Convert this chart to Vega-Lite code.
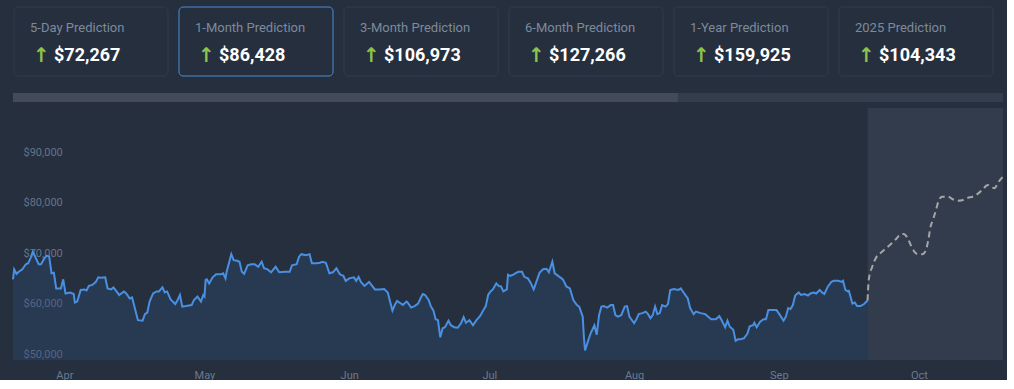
{
  "$schema": "https://vega.github.io/schema/vega-lite/v6.json",
  "background": "#252f3e",
  "padding": {"left": 9, "top": 6, "right": 0, "bottom": 0},
  "config": {"view": {"stroke": null}, "font": "Roboto"},
  "spacing": 16,
  "datasets": {
    "cards": [
      {"label": "5-Day Prediction", "value": "$72,267"},
      {"label": "1-Month Prediction", "value": "$86,428"},
      {"label": "3-Month Prediction", "value": "$106,973"},
      {"label": "6-Month Prediction", "value": "$127,266"},
      {"label": "1-Year Prediction", "value": "$159,925"},
      {"label": "2025 Prediction", "value": "$104,343"}
    ],
    "scroll": [
      {"part": "thumb", "start": 0, "end": 0.6717},
      {"part": "track", "start": 0.6717, "end": 1}
    ],
    "band": [
      {"date": "2024-09-20T00:00:00Z", "end": "2024-10-19T00:00:00Z"}
    ],
    "history": [
      {"date": "2024-03-21T00:00:00Z", "price": 66000},
      {"date": "2024-03-21T06:00:00Z", "price": 68000},
      {"date": "2024-03-21T18:00:00Z", "price": 67100},
      {"date": "2024-03-22T06:00:00Z", "price": 67500},
      {"date": "2024-03-23T00:00:00Z", "price": 68000},
      {"date": "2024-03-23T18:00:00Z", "price": 69000},
      {"date": "2024-03-24T06:00:00Z", "price": 69200},
      {"date": "2024-03-24T18:00:00Z", "price": 70200},
      {"date": "2024-03-25T06:00:00Z", "price": 71500},
      {"date": "2024-03-25T18:00:00Z", "price": 70500},
      {"date": "2024-03-26T12:00:00Z", "price": 69000},
      {"date": "2024-03-27T00:00:00Z", "price": 69000},
      {"date": "2024-03-27T18:00:00Z", "price": 70200},
      {"date": "2024-03-28T06:00:00Z", "price": 70700},
      {"date": "2024-03-28T18:00:00Z", "price": 70500},
      {"date": "2024-03-29T06:00:00Z", "price": 67200},
      {"date": "2024-03-29T18:00:00Z", "price": 67300},
      {"date": "2024-03-30T06:00:00Z", "price": 64200},
      {"date": "2024-03-31T06:00:00Z", "price": 64200},
      {"date": "2024-03-31T18:00:00Z", "price": 66000},
      {"date": "2024-04-01T06:00:00Z", "price": 63200},
      {"date": "2024-04-02T06:00:00Z", "price": 63400},
      {"date": "2024-04-03T00:00:00Z", "price": 63100},
      {"date": "2024-04-03T06:00:00Z", "price": 61400},
      {"date": "2024-04-03T18:00:00Z", "price": 61600},
      {"date": "2024-04-04T12:00:00Z", "price": 63900},
      {"date": "2024-04-05T06:00:00Z", "price": 64000},
      {"date": "2024-04-05T18:00:00Z", "price": 63800},
      {"date": "2024-04-06T06:00:00Z", "price": 64700},
      {"date": "2024-04-07T00:00:00Z", "price": 64900},
      {"date": "2024-04-07T18:00:00Z", "price": 65500},
      {"date": "2024-04-08T06:00:00Z", "price": 66400},
      {"date": "2024-04-08T18:00:00Z", "price": 66300},
      {"date": "2024-04-09T18:00:00Z", "price": 66400},
      {"date": "2024-04-10T06:00:00Z", "price": 64200},
      {"date": "2024-04-11T00:00:00Z", "price": 64000},
      {"date": "2024-04-11T12:00:00Z", "price": 64400},
      {"date": "2024-04-12T00:00:00Z", "price": 63800},
      {"date": "2024-04-12T18:00:00Z", "price": 62900},
      {"date": "2024-04-13T18:00:00Z", "price": 63600},
      {"date": "2024-04-14T06:00:00Z", "price": 63200},
      {"date": "2024-04-15T00:00:00Z", "price": 62200},
      {"date": "2024-04-15T12:00:00Z", "price": 62400},
      {"date": "2024-04-16T00:00:00Z", "price": 60600},
      {"date": "2024-04-16T18:00:00Z", "price": 57900},
      {"date": "2024-04-17T18:00:00Z", "price": 57800},
      {"date": "2024-04-18T06:00:00Z", "price": 59100},
      {"date": "2024-04-18T18:00:00Z", "price": 59400},
      {"date": "2024-04-19T06:00:00Z", "price": 61600},
      {"date": "2024-04-20T00:00:00Z", "price": 63200},
      {"date": "2024-04-20T18:00:00Z", "price": 63600},
      {"date": "2024-04-21T06:00:00Z", "price": 63600},
      {"date": "2024-04-22T00:00:00Z", "price": 64400},
      {"date": "2024-04-22T12:00:00Z", "price": 63400},
      {"date": "2024-04-23T00:00:00Z", "price": 63600},
      {"date": "2024-04-23T18:00:00Z", "price": 62000},
      {"date": "2024-04-24T18:00:00Z", "price": 61100},
      {"date": "2024-04-25T06:00:00Z", "price": 61900},
      {"date": "2024-04-25T18:00:00Z", "price": 62900},
      {"date": "2024-04-26T06:00:00Z", "price": 60600},
      {"date": "2024-04-27T00:00:00Z", "price": 60700},
      {"date": "2024-04-28T06:00:00Z", "price": 60900},
      {"date": "2024-04-28T18:00:00Z", "price": 61900},
      {"date": "2024-04-29T12:00:00Z", "price": 62600},
      {"date": "2024-04-30T06:00:00Z", "price": 61600},
      {"date": "2024-04-30T18:00:00Z", "price": 62900},
      {"date": "2024-05-01T00:00:00Z", "price": 62600},
      {"date": "2024-05-01T06:00:00Z", "price": 65900},
      {"date": "2024-05-01T12:00:00Z", "price": 66000},
      {"date": "2024-05-02T00:00:00Z", "price": 65200},
      {"date": "2024-05-02T18:00:00Z", "price": 66400},
      {"date": "2024-05-03T12:00:00Z", "price": 67000},
      {"date": "2024-05-04T12:00:00Z", "price": 67000},
      {"date": "2024-05-05T00:00:00Z", "price": 67200},
      {"date": "2024-05-05T12:00:00Z", "price": 66200},
      {"date": "2024-05-05T18:00:00Z", "price": 67500},
      {"date": "2024-05-06T18:00:00Z", "price": 71000},
      {"date": "2024-05-07T06:00:00Z", "price": 69800},
      {"date": "2024-05-08T00:00:00Z", "price": 69700},
      {"date": "2024-05-08T12:00:00Z", "price": 69500},
      {"date": "2024-05-09T00:00:00Z", "price": 67500},
      {"date": "2024-05-09T12:00:00Z", "price": 67100},
      {"date": "2024-05-10T06:00:00Z", "price": 68800},
      {"date": "2024-05-11T00:00:00Z", "price": 69000},
      {"date": "2024-05-11T18:00:00Z", "price": 69000},
      {"date": "2024-05-12T12:00:00Z", "price": 68500},
      {"date": "2024-05-13T06:00:00Z", "price": 69500},
      {"date": "2024-05-13T18:00:00Z", "price": 68200},
      {"date": "2024-05-14T12:00:00Z", "price": 68000},
      {"date": "2024-05-15T06:00:00Z", "price": 67400},
      {"date": "2024-05-16T06:00:00Z", "price": 68500},
      {"date": "2024-05-17T00:00:00Z", "price": 67400},
      {"date": "2024-05-18T06:00:00Z", "price": 67500},
      {"date": "2024-05-19T06:00:00Z", "price": 67500},
      {"date": "2024-05-19T18:00:00Z", "price": 68800},
      {"date": "2024-05-20T18:00:00Z", "price": 69000},
      {"date": "2024-05-21T06:00:00Z", "price": 70500},
      {"date": "2024-05-21T18:00:00Z", "price": 71000},
      {"date": "2024-05-22T18:00:00Z", "price": 70800},
      {"date": "2024-05-23T12:00:00Z", "price": 71000},
      {"date": "2024-05-24T00:00:00Z", "price": 69200},
      {"date": "2024-05-25T00:00:00Z", "price": 69200},
      {"date": "2024-05-25T18:00:00Z", "price": 69300},
      {"date": "2024-05-26T06:00:00Z", "price": 69500},
      {"date": "2024-05-27T00:00:00Z", "price": 69300},
      {"date": "2024-05-27T18:00:00Z", "price": 67200},
      {"date": "2024-05-28T12:00:00Z", "price": 67400},
      {"date": "2024-05-29T06:00:00Z", "price": 68200},
      {"date": "2024-05-30T00:00:00Z", "price": 67000},
      {"date": "2024-05-30T18:00:00Z", "price": 66700},
      {"date": "2024-05-31T06:00:00Z", "price": 65700},
      {"date": "2024-06-01T00:00:00Z", "price": 66200},
      {"date": "2024-06-02T00:00:00Z", "price": 66400},
      {"date": "2024-06-02T12:00:00Z", "price": 65700},
      {"date": "2024-06-03T00:00:00Z", "price": 66500},
      {"date": "2024-06-03T12:00:00Z", "price": 65500},
      {"date": "2024-06-04T06:00:00Z", "price": 64700},
      {"date": "2024-06-04T18:00:00Z", "price": 65100},
      {"date": "2024-06-05T06:00:00Z", "price": 65500},
      {"date": "2024-06-05T18:00:00Z", "price": 64900},
      {"date": "2024-06-06T12:00:00Z", "price": 64000},
      {"date": "2024-06-07T12:00:00Z", "price": 64000},
      {"date": "2024-06-08T12:00:00Z", "price": 64100},
      {"date": "2024-06-09T06:00:00Z", "price": 63400},
      {"date": "2024-06-09T18:00:00Z", "price": 61600},
      {"date": "2024-06-10T06:00:00Z", "price": 59800},
      {"date": "2024-06-10T18:00:00Z", "price": 60900},
      {"date": "2024-06-11T06:00:00Z", "price": 61700},
      {"date": "2024-06-11T18:00:00Z", "price": 61400},
      {"date": "2024-06-12T12:00:00Z", "price": 60900},
      {"date": "2024-06-13T06:00:00Z", "price": 61600},
      {"date": "2024-06-13T12:00:00Z", "price": 61400},
      {"date": "2024-06-14T06:00:00Z", "price": 60400},
      {"date": "2024-06-15T00:00:00Z", "price": 60700},
      {"date": "2024-06-15T18:00:00Z", "price": 61200},
      {"date": "2024-06-16T06:00:00Z", "price": 62200},
      {"date": "2024-06-16T18:00:00Z", "price": 63100},
      {"date": "2024-06-17T06:00:00Z", "price": 62900},
      {"date": "2024-06-18T00:00:00Z", "price": 61900},
      {"date": "2024-06-18T12:00:00Z", "price": 60600},
      {"date": "2024-06-19T00:00:00Z", "price": 59900},
      {"date": "2024-06-19T12:00:00Z", "price": 58100},
      {"date": "2024-06-20T00:00:00Z", "price": 57900},
      {"date": "2024-06-20T12:00:00Z", "price": 54500},
      {"date": "2024-06-21T00:00:00Z", "price": 56300},
      {"date": "2024-06-21T12:00:00Z", "price": 56500},
      {"date": "2024-06-22T06:00:00Z", "price": 57800},
      {"date": "2024-06-22T18:00:00Z", "price": 56900},
      {"date": "2024-06-23T12:00:00Z", "price": 56500},
      {"date": "2024-06-24T06:00:00Z", "price": 56400},
      {"date": "2024-06-25T00:00:00Z", "price": 57400},
      {"date": "2024-06-25T12:00:00Z", "price": 58500},
      {"date": "2024-06-26T00:00:00Z", "price": 57400},
      {"date": "2024-06-26T18:00:00Z", "price": 57900},
      {"date": "2024-06-27T12:00:00Z", "price": 56900},
      {"date": "2024-06-28T06:00:00Z", "price": 57900},
      {"date": "2024-06-29T00:00:00Z", "price": 58700},
      {"date": "2024-06-29T18:00:00Z", "price": 59900},
      {"date": "2024-06-30T06:00:00Z", "price": 60700},
      {"date": "2024-06-30T18:00:00Z", "price": 62900},
      {"date": "2024-07-01T06:00:00Z", "price": 63600},
      {"date": "2024-07-01T18:00:00Z", "price": 64000},
      {"date": "2024-07-02T12:00:00Z", "price": 65200},
      {"date": "2024-07-03T00:00:00Z", "price": 64700},
      {"date": "2024-07-03T12:00:00Z", "price": 64600},
      {"date": "2024-07-04T00:00:00Z", "price": 63600},
      {"date": "2024-07-04T18:00:00Z", "price": 64000},
      {"date": "2024-07-05T00:00:00Z", "price": 66900},
      {"date": "2024-07-05T12:00:00Z", "price": 66700},
      {"date": "2024-07-06T06:00:00Z", "price": 67000},
      {"date": "2024-07-06T18:00:00Z", "price": 67300},
      {"date": "2024-07-07T06:00:00Z", "price": 67500},
      {"date": "2024-07-08T00:00:00Z", "price": 67500},
      {"date": "2024-07-08T12:00:00Z", "price": 66500},
      {"date": "2024-07-09T06:00:00Z", "price": 66200},
      {"date": "2024-07-09T18:00:00Z", "price": 65500},
      {"date": "2024-07-10T12:00:00Z", "price": 64000},
      {"date": "2024-07-11T00:00:00Z", "price": 65300},
      {"date": "2024-07-11T18:00:00Z", "price": 67300},
      {"date": "2024-07-12T12:00:00Z", "price": 68000},
      {"date": "2024-07-13T06:00:00Z", "price": 68100},
      {"date": "2024-07-13T18:00:00Z", "price": 67400},
      {"date": "2024-07-14T12:00:00Z", "price": 69500},
      {"date": "2024-07-15T00:00:00Z", "price": 67200},
      {"date": "2024-07-15T18:00:00Z", "price": 66700},
      {"date": "2024-07-16T18:00:00Z", "price": 66000},
      {"date": "2024-07-17T12:00:00Z", "price": 64600},
      {"date": "2024-07-18T06:00:00Z", "price": 64200},
      {"date": "2024-07-19T00:00:00Z", "price": 61900},
      {"date": "2024-07-19T18:00:00Z", "price": 60900},
      {"date": "2024-07-20T06:00:00Z", "price": 60600},
      {"date": "2024-07-21T00:00:00Z", "price": 58600},
      {"date": "2024-07-21T06:00:00Z", "price": 54600},
      {"date": "2024-07-21T12:00:00Z", "price": 51900},
      {"date": "2024-07-22T06:00:00Z", "price": 54100},
      {"date": "2024-07-22T18:00:00Z", "price": 55400},
      {"date": "2024-07-23T12:00:00Z", "price": 56900},
      {"date": "2024-07-24T00:00:00Z", "price": 55000},
      {"date": "2024-07-24T12:00:00Z", "price": 58900},
      {"date": "2024-07-25T00:00:00Z", "price": 60600},
      {"date": "2024-07-25T12:00:00Z", "price": 60700},
      {"date": "2024-07-26T06:00:00Z", "price": 60400},
      {"date": "2024-07-27T00:00:00Z", "price": 60900},
      {"date": "2024-07-27T12:00:00Z", "price": 60900},
      {"date": "2024-07-28T00:00:00Z", "price": 58900},
      {"date": "2024-07-28T12:00:00Z", "price": 58600},
      {"date": "2024-07-29T06:00:00Z", "price": 58900},
      {"date": "2024-07-30T00:00:00Z", "price": 60600},
      {"date": "2024-07-30T12:00:00Z", "price": 60700},
      {"date": "2024-07-31T00:00:00Z", "price": 58600},
      {"date": "2024-08-01T00:00:00Z", "price": 57300},
      {"date": "2024-08-01T12:00:00Z", "price": 58100},
      {"date": "2024-08-02T00:00:00Z", "price": 59100},
      {"date": "2024-08-02T18:00:00Z", "price": 59300},
      {"date": "2024-08-03T12:00:00Z", "price": 59600},
      {"date": "2024-08-04T00:00:00Z", "price": 59100},
      {"date": "2024-08-04T12:00:00Z", "price": 58300},
      {"date": "2024-08-05T00:00:00Z", "price": 58900},
      {"date": "2024-08-05T12:00:00Z", "price": 60600},
      {"date": "2024-08-06T00:00:00Z", "price": 59100},
      {"date": "2024-08-06T12:00:00Z", "price": 59300},
      {"date": "2024-08-07T00:00:00Z", "price": 60900},
      {"date": "2024-08-07T18:00:00Z", "price": 60600},
      {"date": "2024-08-08T06:00:00Z", "price": 61100},
      {"date": "2024-08-08T18:00:00Z", "price": 63900},
      {"date": "2024-08-09T12:00:00Z", "price": 64100},
      {"date": "2024-08-10T12:00:00Z", "price": 63900},
      {"date": "2024-08-11T00:00:00Z", "price": 64200},
      {"date": "2024-08-11T18:00:00Z", "price": 63200},
      {"date": "2024-08-12T12:00:00Z", "price": 62200},
      {"date": "2024-08-13T00:00:00Z", "price": 60300},
      {"date": "2024-08-13T18:00:00Z", "price": 59100},
      {"date": "2024-08-14T06:00:00Z", "price": 59600},
      {"date": "2024-08-15T06:00:00Z", "price": 59300},
      {"date": "2024-08-16T06:00:00Z", "price": 59100},
      {"date": "2024-08-16T18:00:00Z", "price": 58700},
      {"date": "2024-08-17T12:00:00Z", "price": 58100},
      {"date": "2024-08-18T12:00:00Z", "price": 58100},
      {"date": "2024-08-19T06:00:00Z", "price": 58700},
      {"date": "2024-08-19T18:00:00Z", "price": 57900},
      {"date": "2024-08-20T12:00:00Z", "price": 56500},
      {"date": "2024-08-21T00:00:00Z", "price": 57800},
      {"date": "2024-08-21T12:00:00Z", "price": 56600},
      {"date": "2024-08-22T06:00:00Z", "price": 56000},
      {"date": "2024-08-22T18:00:00Z", "price": 53800},
      {"date": "2024-08-23T06:00:00Z", "price": 54100},
      {"date": "2024-08-23T18:00:00Z", "price": 54100},
      {"date": "2024-08-24T12:00:00Z", "price": 54300},
      {"date": "2024-08-25T06:00:00Z", "price": 55200},
      {"date": "2024-08-25T18:00:00Z", "price": 56700},
      {"date": "2024-08-26T12:00:00Z", "price": 56900},
      {"date": "2024-08-26T18:00:00Z", "price": 57400},
      {"date": "2024-08-27T06:00:00Z", "price": 56500},
      {"date": "2024-08-28T00:00:00Z", "price": 57600},
      {"date": "2024-08-28T18:00:00Z", "price": 58100},
      {"date": "2024-08-29T06:00:00Z", "price": 58100},
      {"date": "2024-08-29T18:00:00Z", "price": 59900},
      {"date": "2024-08-30T12:00:00Z", "price": 59900},
      {"date": "2024-08-31T12:00:00Z", "price": 59900},
      {"date": "2024-09-01T06:00:00Z", "price": 58900},
      {"date": "2024-09-02T00:00:00Z", "price": 57800},
      {"date": "2024-09-02T12:00:00Z", "price": 58600},
      {"date": "2024-09-03T00:00:00Z", "price": 60300},
      {"date": "2024-09-03T12:00:00Z", "price": 60100},
      {"date": "2024-09-04T00:00:00Z", "price": 60900},
      {"date": "2024-09-04T12:00:00Z", "price": 62800},
      {"date": "2024-09-05T06:00:00Z", "price": 63400},
      {"date": "2024-09-05T18:00:00Z", "price": 62900},
      {"date": "2024-09-06T12:00:00Z", "price": 63100},
      {"date": "2024-09-07T06:00:00Z", "price": 62800},
      {"date": "2024-09-07T18:00:00Z", "price": 63200},
      {"date": "2024-09-08T12:00:00Z", "price": 63400},
      {"date": "2024-09-09T00:00:00Z", "price": 63200},
      {"date": "2024-09-09T18:00:00Z", "price": 63900},
      {"date": "2024-09-10T06:00:00Z", "price": 63400},
      {"date": "2024-09-10T18:00:00Z", "price": 63100},
      {"date": "2024-09-11T12:00:00Z", "price": 64600},
      {"date": "2024-09-12T06:00:00Z", "price": 65500},
      {"date": "2024-09-12T18:00:00Z", "price": 65700},
      {"date": "2024-09-13T18:00:00Z", "price": 65700},
      {"date": "2024-09-14T12:00:00Z", "price": 65500},
      {"date": "2024-09-14T18:00:00Z", "price": 65700},
      {"date": "2024-09-15T06:00:00Z", "price": 63900},
      {"date": "2024-09-15T18:00:00Z", "price": 63600},
      {"date": "2024-09-16T00:00:00Z", "price": 63700},
      {"date": "2024-09-16T18:00:00Z", "price": 61200},
      {"date": "2024-09-17T06:00:00Z", "price": 61400},
      {"date": "2024-09-17T18:00:00Z", "price": 60700},
      {"date": "2024-09-18T12:00:00Z", "price": 60700},
      {"date": "2024-09-19T06:00:00Z", "price": 61100},
      {"date": "2024-09-20T00:00:00Z", "price": 61800}
    ],
    "forecast": [
      {"date": "2024-09-20T00:00:00Z", "price": 61800},
      {"date": "2024-09-20T06:00:00Z", "price": 65900},
      {"date": "2024-09-21T00:00:00Z", "price": 68500},
      {"date": "2024-09-21T18:00:00Z", "price": 70200},
      {"date": "2024-09-22T18:00:00Z", "price": 71200},
      {"date": "2024-09-24T00:00:00Z", "price": 72200},
      {"date": "2024-09-25T00:00:00Z", "price": 73000},
      {"date": "2024-09-26T00:00:00Z", "price": 73900},
      {"date": "2024-09-27T06:00:00Z", "price": 75000},
      {"date": "2024-09-27T18:00:00Z", "price": 75000},
      {"date": "2024-09-28T12:00:00Z", "price": 74300},
      {"date": "2024-09-29T06:00:00Z", "price": 72800},
      {"date": "2024-09-30T00:00:00Z", "price": 71500},
      {"date": "2024-09-30T18:00:00Z", "price": 71000},
      {"date": "2024-10-01T18:00:00Z", "price": 71000},
      {"date": "2024-10-02T12:00:00Z", "price": 71800},
      {"date": "2024-10-03T00:00:00Z", "price": 73800},
      {"date": "2024-10-03T12:00:00Z", "price": 76500},
      {"date": "2024-10-04T00:00:00Z", "price": 77800},
      {"date": "2024-10-04T18:00:00Z", "price": 80100},
      {"date": "2024-10-05T06:00:00Z", "price": 81700},
      {"date": "2024-10-06T00:00:00Z", "price": 82400},
      {"date": "2024-10-07T06:00:00Z", "price": 82400},
      {"date": "2024-10-08T06:00:00Z", "price": 81900},
      {"date": "2024-10-09T06:00:00Z", "price": 81600},
      {"date": "2024-10-10T06:00:00Z", "price": 81700},
      {"date": "2024-10-11T12:00:00Z", "price": 82200},
      {"date": "2024-10-12T12:00:00Z", "price": 82400},
      {"date": "2024-10-13T12:00:00Z", "price": 82900},
      {"date": "2024-10-14T12:00:00Z", "price": 83700},
      {"date": "2024-10-15T18:00:00Z", "price": 84700},
      {"date": "2024-10-16T12:00:00Z", "price": 84300},
      {"date": "2024-10-17T06:00:00Z", "price": 84100},
      {"date": "2024-10-17T18:00:00Z", "price": 84900},
      {"date": "2024-10-19T00:00:00Z", "price": 86400}
    ]
  },
  "vconcat": [
    {
      "width": 981,
      "height": 69,
      "data": {"name": "cards"},
      "encoding": {
        "x": {"field": "label", "type": "nominal", "sort": null, "axis": null,
              "scale": {"paddingInner": 0.0667, "paddingOuter": 0.00606}}
      },
      "layer": [
        {
          "mark": {"type": "rect", "fill": "#252f3e", "strokeWidth": 1, "cornerRadius": 4},
          "encoding": {
            "stroke": {"condition": {"test": "datum.label === '1-Month Prediction'", "value": "#4a8fd9"}, "value": "#323c4c"}
          }
        },
        {
          "mark": {"type": "text", "align": "left", "baseline": "alphabetic", "dx": 16, "dy": -9.5,
                   "font": "Roboto", "fontSize": 13, "color": "#7d8a9b"},
          "encoding": {
            "x": {"field": "label", "type": "nominal", "sort": null, "bandPosition": 0, "axis": null},
            "text": {"field": "label"}
          }
        },
        {
          "mark": {"type": "text", "align": "left", "baseline": "alphabetic", "dx": 19, "dy": 20,
                   "font": "DejaVu Sans", "fontSize": 20, "fontWeight": "bold", "color": "#8cc34b", "text": "↑"},
          "encoding": {
            "x": {"field": "label", "type": "nominal", "sort": null, "bandPosition": 0, "axis": null}
          }
        },
        {
          "mark": {"type": "text", "align": "left", "baseline": "alphabetic", "dx": 40, "dy": 19.5,
                   "font": "Roboto", "fontSize": 18, "fontWeight": "bold", "color": "#ffffff"},
          "encoding": {
            "x": {"field": "label", "type": "nominal", "sort": null, "bandPosition": 0, "axis": null},
            "text": {"field": "value"}
          }
        }
      ]
    },
    {
      "spacing": 6,
      "vconcat": [
        {
          "width": 990,
          "height": 9,
          "data": {"name": "scroll"},
          "mark": {"type": "rect"},
          "encoding": {
            "x": {"field": "start", "type": "quantitative", "axis": null,
                  "scale": {"domain": [0, 1], "nice": false, "zero": false}},
            "x2": {"field": "end"},
            "color": {"field": "part", "type": "nominal", "legend": null,
                      "scale": {"domain": ["thumb", "track"], "range": ["#434b5a", "#343d4c"]}}
          }
        },
        {
          "width": 990,
          "height": 252,
          "encoding": {
            "x": {"field": "date", "type": "temporal",
                  "scale": {"type": "utc", "nice": false,
                            "domain": [{"year": 2024, "month": "mar", "date": 21, "utc": true},
                                       {"year": 2024, "month": "oct", "date": 19, "utc": true}]},
                  "axis": {"format": "%b", "tickCount": "month", "domain": false, "ticks": false, "tickSize": 0,
                           "labelPadding": 9, "labelColor": "#6b7a8f", "labelFont": "Roboto", "labelFontSize": 11,
                           "grid": false, "title": null, "labelFlush": false}}
          },
          "layer": [
            {
              "data": {"name": "band"},
              "mark": {"type": "rect", "color": "#8a9ab0", "opacity": 0.13},
              "encoding": {
                "x2": {"field": "end"},
                "y": {"datum": 100000, "type": "quantitative",
                      "scale": {"domain": [50000, 100000], "nice": false, "zero": false},
                      "axis": {"values": [50000, 60000, 70000, 80000, 90000], "format": "$,.0f",
                               "domain": false, "ticks": false, "tickSize": 0, "labelAlign": "left",
                               "labelBaseline": "alphabetic", "labelPadding": -10, "labelOffset": -3,
                               "labelColor": "#66748a", "labelFont": "Roboto", "labelFontSize": 11,
                               "gridColor": "#364151", "gridWidth": 1, "title": null, "labelFlush": false}},
                "y2": {"datum": 50000}
              }
            },
            {
              "data": {"name": "history"},
              "mark": {"type": "area", "color": "#2d4d78", "opacity": 0.35},
              "encoding": {
                "y": {"field": "price", "type": "quantitative"},
                "y2": {"datum": 50000}
              }
            },
            {
              "data": {"name": "history"},
              "mark": {"type": "line", "color": "#4a90e2", "strokeWidth": 2},
              "encoding": {
                "y": {"field": "price", "type": "quantitative"}
              }
            },
            {
              "data": {"name": "forecast"},
              "mark": {"type": "line", "color": "#a6a6a6", "strokeWidth": 2, "strokeDash": [6, 4], "interpolate": "monotone"},
              "encoding": {
                "y": {"field": "price", "type": "quantitative"}
              }
            }
          ]
        }
      ]
    }
  ]
}
